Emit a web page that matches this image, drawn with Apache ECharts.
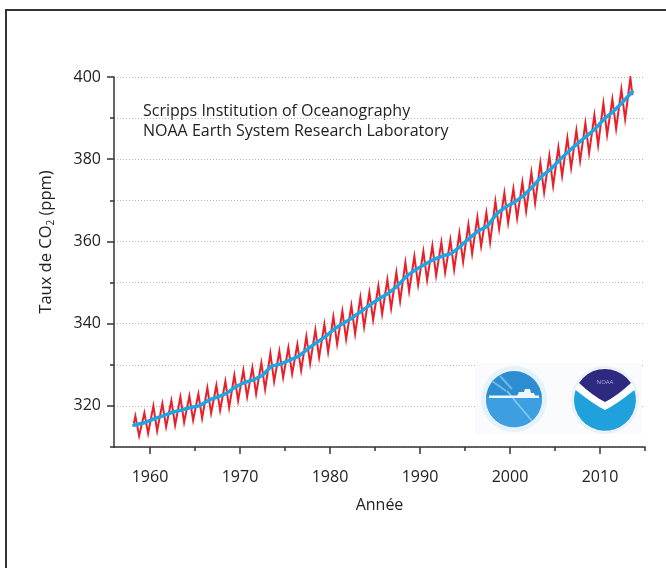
<!DOCTYPE html>
<html>
<head>
<meta charset="utf-8">
<script src="https://cdn.jsdelivr.net/npm/echarts@6/dist/echarts.min.js"></script>
<style>
  html, body { margin: 0; padding: 0; background: #fff; }
  #chart { width: 666px; height: 568px; }
</style>
</head>
<body>
<div id="chart"></div>
<script>
// Mauna Loa atmospheric CO2 (ppm): seasonal maxima/minima and yearly mean
const years = [1958,1959,1960,1961,1962,1963,1964,1965,1966,1967,1968,1969,
  1970,1971,1972,1973,1974,1975,1976,1977,1978,1979,1980,1981,1982,1983,1984,
  1985,1986,1987,1988,1989,1990,1991,1992,1993,1994,1995,1996,1997,1998,1999,
  2000,2001,2002,2003,2004,2005,2006,2007,2008,2009,2010,2011,2012,2013];

// May maximum of each year
const mayPeak = [317.5,318.3,320.0,320.6,321.3,322.2,322.4,322.9,324.4,325.0,326.0,327.5,
  328.7,329.3,330.5,332.8,333.3,334.2,335.0,336.9,338.5,339.9,341.7,343.1,344.4,346.4,347.6,
  349.2,350.7,352.5,354.9,356.4,357.6,359.0,359.8,360.4,362.0,364.1,365.9,367.0,369.8,371.8,
  372.8,374.4,376.8,379.1,380.9,382.9,385.2,387.0,388.8,390.7,393.6,394.6,397.0,399.8];

// October minimum of each year (record stops before the 2013 minimum)
const octLow = [312.7,313.3,313.9,314.9,315.3,316.0,316.5,317.0,318.2,318.9,319.6,321.3,
  322.2,322.9,324.0,325.9,326.9,327.8,328.6,330.3,331.8,333.1,335.0,336.2,337.5,339.2,340.9,
  342.3,343.7,345.5,347.9,349.4,350.6,351.7,352.4,353.1,355.0,357.0,358.8,359.8,363.0,364.5,
  365.6,367.3,369.3,371.9,373.5,375.9,377.9,379.6,381.5,383.4,385.9,387.4,389.7,null];

// first and last monthly readings [decimal year, ppm]
const firstReading = [1958.2, 315.7];
const lastReading = [2013.6, 395.6];

// seasonally adjusted trend [decimal year, ppm]
const trendYear = [1958.2,1959.5,1960.5,1961.5,1962.5,1963.5,1964.5,1965.5,1966.5,1967.5,
  1968.5,1969.5,1970.5,1971.5,1972.5,1973.5,1974.5,1975.5,1976.5,1977.5,1978.5,1979.5,
  1980.5,1981.5,1982.5,1983.5,1984.5,1985.5,1986.5,1987.5,1988.5,1989.5,1990.5,1991.5,
  1992.5,1993.5,1994.5,1995.5,1996.5,1997.5,1998.5,1999.5,2000.5,2001.5,2002.5,2003.5,
  2004.5,2005.5,2006.5,2007.5,2008.5,2009.5,2010.5,2011.5,2012.5,2013.6];
const trendCO2 = [315.3,315.97,316.91,317.64,318.45,318.99,319.62,320.04,321.38,322.16,
  323.04,324.62,325.68,326.32,327.45,329.68,330.18,331.11,332.04,333.83,335.40,336.84,
  338.75,340.11,341.45,343.05,344.65,346.12,347.42,349.19,351.57,353.12,354.39,355.61,
  356.45,357.10,358.83,360.82,362.61,363.73,366.70,368.38,369.55,371.14,373.28,375.80,
  377.52,379.80,381.90,383.79,385.60,387.43,389.90,391.65,393.85,396.4];

// axis ticks
const xLabelYears = [1960,1970,1980,1990,2000,2010];
const xMinorYears = [1965,1975,1985,1995,2005,2015];
const yLabelValues = [320,340,360,380,400];

const sourceLines = ['Scripps Institution of Oceanography', 'NOAA Earth System Research Laboratory'];

// build the monthly zig-zag: May maximum then October minimum each year
const PEAK_MONTH = 5, LOW_MONTH = 10;
const monthly = [firstReading];
years.forEach((y, i) => {
  monthly.push([y + (PEAK_MONTH - 0.5) / 12, mayPeak[i]]);
  if (octLow[i] != null) monthly.push([y + (LOW_MONTH - 0.5) / 12, octLow[i]]);
});
monthly.push(lastReading);
const trend = trendYear.map((t, i) => [t, trendCO2[i]]);

// emblem outlines as SVG paths, registered as graphic shapes
const emblemPaths = {
  esrlLower: 'M 27.9 -2 A 28 28 0 1 1 -27.9 -2 Z',
  esrlRays: 'M -22 -18 L -8 -8 M -14 -23 L -2 -10',
  esrlBeam: 'M -7 -8 L 18 22',
  esrlShip: 'M 3 -3 L 5 -7 L 10 -7 L 11 -10 L 16 -10 L 17 -6 L 20 -6 L 21 -3 Z',
  noaaSky: 'M -26 -17 A 31 31 0 0 1 26 -17 Q 12 -4 0 2 Q -12 -4 -26 -17 Z',
  noaaSea: 'M 29.4 -10 A 31 31 0 1 1 -29.4 -10 Q -12 4 0 10 Q 12 4 29.4 -10 Z'
};
Object.keys(emblemPaths).forEach(k => {
  echarts.graphic.registerShape(k, echarts.graphic.extendPath(emblemPaths[k], {}));
});

const FONT = '"Open Sans", "Noto Sans", sans-serif';
const INK = '#222';
const AXIS = '#333';
const yearText = v => String(v);

const chart = echarts.init(document.getElementById('chart'), null, { renderer: 'canvas' });

chart.setOption({
  animation: false,
  backgroundColor: '#fff',
  grid: { left: 114, right: 21, top: 77, bottom: 121 },
  xAxis: [
    {
      type: 'value', min: 1956, max: 2015,
      axisLine: { show: true, lineStyle: { color: AXIS, width: 1.5 } },
      axisTick: { show: true, customValues: xLabelYears, length: 7, lineStyle: { color: AXIS, width: 1.5 } },
      axisLabel: { customValues: xLabelYears, formatter: yearText, margin: 22,
        color: INK, fontSize: 16, fontFamily: FONT },
      splitLine: { show: false },
      name: 'Année', nameLocation: 'middle', nameGap: 50,
      nameTextStyle: { color: INK, fontSize: 16, fontFamily: FONT }
    },
    {
      type: 'value', min: 1956, max: 2015, position: 'bottom',
      axisLine: { show: false },
      axisTick: { show: true, customValues: xMinorYears, length: 4, lineStyle: { color: AXIS, width: 1.5 } },
      axisLabel: { show: false },
      splitLine: { show: false }
    }
  ],
  yAxis: [
    {
      type: 'value', min: 310, max: 400, interval: 10,
      axisLine: { show: false },
      axisTick: { show: true, length: 4, lineStyle: { color: AXIS, width: 1.5 } },
      axisLabel: { show: false },
      splitLine: { show: true, lineStyle: { color: '#b5b5b5', width: 1, type: [1, 2] } }
    },
    {
      type: 'value', min: 310, max: 400, position: 'left',
      axisLine: { show: true, lineStyle: { color: AXIS, width: 1.5 } },
      axisTick: { show: true, customValues: yLabelValues, length: 7, lineStyle: { color: AXIS, width: 1.5 } },
      axisLabel: { customValues: yLabelValues, margin: 13, color: INK, fontSize: 16, fontFamily: FONT },
      splitLine: { show: false }
    }
  ],
  series: [
    {
      name: 'mensuel', type: 'line', data: monthly, xAxisIndex: 0, yAxisIndex: 0,
      showSymbol: false, symbol: 'none', z: 3,
      lineStyle: { color: '#e8202a', width: 2, join: 'miter' }
    },
    {
      name: 'tendance', type: 'line', data: trend, xAxisIndex: 0, yAxisIndex: 0,
      showSymbol: false, symbol: 'none', z: 4,
      lineStyle: { color: '#1ba6e4', width: 3.5, cap: 'round', join: 'round' }
    }
  ],
  graphic: [
    // outer frame
    { type: 'rect', shape: { x: 6, y: 10, width: 700, height: 600 }, silent: true,
      style: { fill: 'none', stroke: '#333', lineWidth: 2 } },
    // y axis title with subscript
    { type: 'text', x: 46, y: 242, rotation: Math.PI / 2, silent: true,
      style: {
        text: '{a|Taux de CO}{s|2}{a| (ppm)}',
        align: 'center', verticalAlign: 'middle',
        rich: {
          a: { fontSize: 16.5, fontFamily: FONT, fill: INK, lineHeight: 20 },
          s: { fontSize: 10, fontFamily: FONT, fill: INK, lineHeight: 10, verticalAlign: 'bottom' }
        }
      } },
    // data sources
    { type: 'text', x: 143, y: 101, silent: true,
      style: { text: sourceLines.join('\n'), fontSize: 16, lineHeight: 20, fontFamily: FONT, fill: INK } },
    // logo panel
    { type: 'rect', shape: { x: 475, y: 363, width: 167, height: 71 }, silent: true, z: 10,
      style: { fill: '#fafbfd' } },
    // ESRL emblem
    { type: 'group', x: 514, y: 399, silent: true, children: [
      { type: 'circle', z: 11, shape: { cx: 0, cy: 0, r: 33 }, style: { fill: '#e6f2fa' } },
      { type: 'circle', z: 12, shape: { cx: 0, cy: 0, r: 28 }, style: { fill: '#2c8ed0' } },
      { type: 'esrlLower', z: 13, style: { fill: '#3d9fe0' } },
      { type: 'esrlRays', z: 14, style: { stroke: '#6fb7e6', lineWidth: 2, fill: 'none' } },
      { type: 'esrlBeam', z: 14, style: { stroke: '#8cc8ee', lineWidth: 1.5, fill: 'none' } },
      { type: 'rect', z: 15, shape: { x: -25, y: -3.5, width: 50, height: 2.5 }, style: { fill: '#eef7fd' } },
      { type: 'esrlShip', z: 15, style: { fill: '#eef7fd' } }
    ] },
    // NOAA emblem
    { type: 'group', x: 605, y: 400, silent: true, children: [
      { type: 'circle', z: 11, shape: { cx: 0, cy: 0, r: 34 }, style: { fill: '#eef0f7' } },
      { type: 'circle', z: 12, shape: { cx: 0, cy: 0, r: 31.5 }, style: { fill: '#ffffff' } },
      { type: 'noaaSky', z: 13, style: { fill: '#2d2a80' } },
      { type: 'noaaSea', z: 13, style: { fill: '#1fa2dc' } },
      { type: 'text', z: 14, x: 0, y: -18, style: { text: 'NOAA', fontSize: 6, fontFamily: FONT, fill: '#a9b0e0',
        align: 'center', verticalAlign: 'middle' } }
    ] }
  ]
});
</script>
</body>
</html>
